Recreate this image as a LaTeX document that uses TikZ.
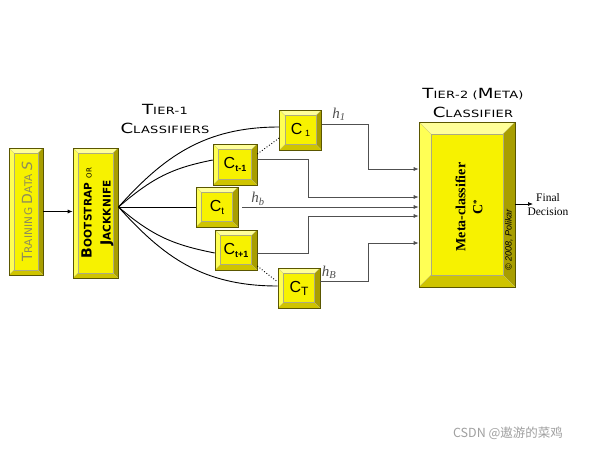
\documentclass[tikz,border=0pt]{standalone}
\usepackage{fontspec}
\setmainfont{Liberation Serif}
\setsansfont{Liberation Sans}
\newfontfamily\cop[FakeStretch=1.3,LetterSpace=3]{DejaVu Sans}
\newfontfamily\copn[LetterSpace=2]{DejaVu Sans}
\newfontfamily\cjkf{Noto Sans CJK SC}
\usetikzlibrary{arrows.meta}

\definecolor{face}{HTML}{F7F200}
\definecolor{btop}{HTML}{FFFF99}
\definecolor{bleft}{HTML}{FFFF55}
\definecolor{bright}{HTML}{A89E00}
\definecolor{bbot}{HTML}{CFC400}
\definecolor{edge}{HTML}{5A5600}
\definecolor{wire}{HTML}{505050}
\definecolor{trtext}{HTML}{8E8C5A}
\definecolor{wm}{HTML}{A0A0A0}

\newcommand\bevels[1]{%
 \coordinate (pnw) at (path picture bounding box.north west);
 \coordinate (pne) at (path picture bounding box.north east);
 \coordinate (psw) at (path picture bounding box.south west);
 \coordinate (pse) at (path picture bounding box.south east);
 \coordinate (inw) at ([xshift=#1,yshift=-#1]pnw);
 \coordinate (ine) at ([xshift=-#1,yshift=-#1]pne);
 \coordinate (isw) at ([xshift=#1,yshift=#1]psw);
 \coordinate (ise) at ([xshift=-#1,yshift=#1]pse);
 \fill[btop] (pnw) -- (pne) -- (ine) -- (inw) -- cycle;
 \fill[bleft] (pnw) -- (inw) -- (isw) -- (psw) -- cycle;
 \fill[bright] (pne) -- (ine) -- (ise) -- (pse) -- cycle;
 \fill[bbot] (psw) -- (isw) -- (ise) -- (pse) -- cycle;
 \draw[edge!50, line width=0.3pt] (inw) rectangle (ise);
 \draw[edge!40, line width=0.3pt] (pnw) -- (inw) (pne) -- (ine) (psw) -- (isw) (pse) -- (ise);
}
\newcommand\Bg[1]{{\fontsize{14}{14}\selectfont #1}}
\newcommand\Bs[1]{{\fontsize{14}{14}\selectfont #1}}

\tikzset{
 bev/.style={draw=edge, line width=0.6pt, fill=face, inner sep=0pt, path picture={\bevels{#1}}},
 cls/.style={bev=5.5pt, minimum width=42pt, minimum height=40pt, font=\sffamily\fontsize{16}{16}\selectfont},
 fan/.style={draw=black, line width=0.9pt},
 wireln/.style={draw=wire, line width=0.7pt, -{Latex[length=5pt,width=4pt]}},
 dots/.style={draw=black, line width=0.9pt, dotted},
 hlab/.style={text=wire, font=\itshape\fontsize{15}{15}\selectfont},
 tier/.style={font=\cop\fontsize{10}{19}\selectfont, align=center},
}

\begin{document}
\begin{tikzpicture}[x=1pt,y=-1pt]
\path[use as bounding box, fill=white] (0,0) rectangle (600,450);

% input boxes
\node[bev=5pt, minimum width=34pt, minimum height=127pt] (tr) at (26,211.5) {};
\node[rotate=90, text=trtext, font=\copn\fontsize{10.5}{10}\selectfont] (trt) at ([xshift=1pt]tr.center) {\Bs{T}RAINING \Bs{D}ATA \textit{\Bs{S}}};
\node[bev=5pt, minimum width=45pt, minimum height=130pt] (bs) at (95.5,213) {};
\node[rotate=90, font=\copn\bfseries\fontsize{10.5}{19}\selectfont, align=center] (bst) at ([xshift=2pt]bs.center) {\Bg{B}OOTSTRAP {\fontsize{7}{7}\selectfont\mdseries OR}\\\Bg{J}ACKKNIFE};

\draw[wireln, draw=black, line width=0.9pt] (tr.east) -- (bs.west |- tr.east);

% tier-1 classifiers
\node[cls] (c1) at (300.5,130) {C\,\raisebox{-2pt}{\fontsize{9}{9}\selectfont 1}};
\node[cls, minimum width=44pt, minimum height=41pt] (ctm1) at (235,164.5) {C\raisebox{-3pt}{\fontsize{9}{9}\selectfont\bfseries t-1}};
\node[cls] (ct) at (217,207) {C\raisebox{-3pt}{\fontsize{10}{10}\selectfont t}};
\node[cls] (ctp1) at (236,250) {C\raisebox{-3pt}{\fontsize{9}{9}\selectfont\bfseries t+1}};
\node[cls] (cT) at (299,288) {C\raisebox{-3pt}{\fontsize{12}{12}\selectfont T}};

\node[tier] (t1) at (165,118.5) {\Bg{T}IER-1\\\Bg{C}LASSIFIERS};

% fan
\coordinate (o) at (118.5,207);
\draw[fan] (o) .. controls +(45,-50) and +(-75,0) .. ([yshift=3pt]c1.west);
\draw[fan] (o) .. controls +(35,-30) and +(-40,8) .. ([yshift=4.5pt]ctm1.west);
\draw[fan] (o) -- (ct.west);
\draw[fan] (o) .. controls +(35,30) and +(-40,-8) .. ([yshift=-3pt]ctp1.west);
\draw[fan] (o) .. controls +(45,50) and +(-75,0) .. ([yshift=2pt]cT.west);

\draw[dots] ([yshift=10.5pt]ctm1.east) -- ([yshift=-8pt]c1.west);
\draw[dots] ([yshift=-16pt]ctp1.east) -- ([yshift=6pt]cT.west);

% meta classifier
\node[bev=12pt, minimum width=96pt, minimum height=165pt] (meta) at (467,204.5) {};
\node[rotate=90, font=\bfseries\fontsize{14}{17}\selectfont, align=center] (mt) at (469,207) {Meta-classifier\\C\raisebox{3pt}{\fontsize{9}{9}\selectfont *}};
\node[rotate=90, font=\sffamily\itshape\fontsize{9}{9}\selectfont] (cp) at (509,240) {\textcopyright\ 2008, Polikar};
\node[tier] (t2) at (473,102.5) {\Bg{T}IER-2 (\Bg{M}ETA)\\\Bg{C}LASSIFIER};

% outputs
\draw[wireln] ([yshift=6pt]c1.east) -- (368,124) -- (368,169) -- (meta.west |- 368,169);
\draw[wireln] ([yshift=5pt]ctm1.east) -- (308,159.5) -- (308,197) -- (meta.west |- 308,197);
\draw[wireln] ([xshift=4pt]ct.east) -- (meta.west |- ct.east);
\draw[wireln] ([yshift=-3pt]ctp1.east) -- (308,253) -- (308,216) -- (meta.west |- 308,216);
\draw[wireln] ([yshift=6.5pt]cT.east) -- (368,281.5) -- (368,243) -- (meta.west |- 368,243);

\node[hlab] (h1) at (339,114) {h\textsubscript{1}};
\node[hlab] (hb) at (258,199) {h\textsubscript{b}};
\node[hlab] (hB) at (329,272) {h\textsubscript{B}};

% final
\coordinate (fo) at (533,204);
\draw[wireln, draw=black] (meta.east |- fo) -- (fo);
\node[font=\fontsize{11.5}{14}\selectfont, align=center] (fd) at (548,205) {Final\\Decision};

% watermark
\node[text=wm, font=\cjkf\fontsize{12.5}{13}\selectfont] (wmk) at (508,433) {CSDN @遨游的菜鸡};
\end{tikzpicture}
\end{document}
